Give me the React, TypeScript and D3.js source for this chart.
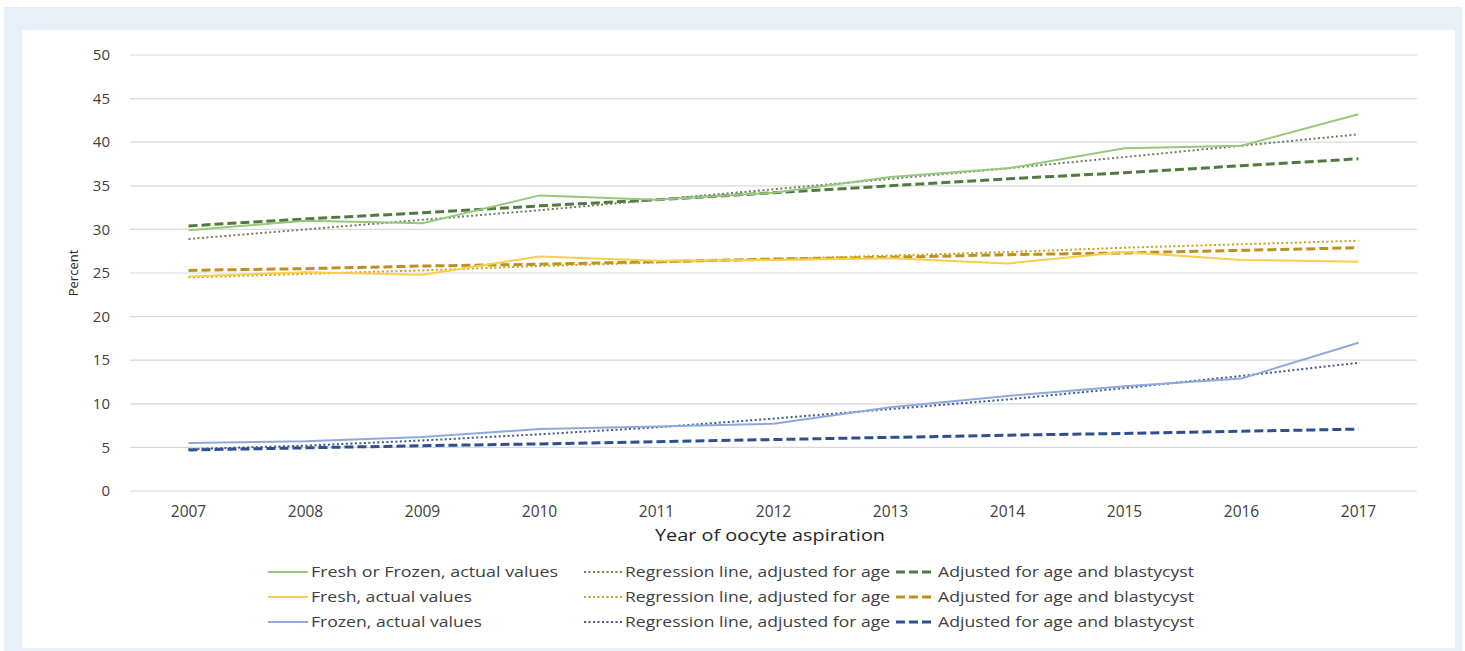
import React from "react";
import * as d3 from "d3";

const years = ["2007","2008","2009","2010","2011","2012","2013","2014","2015","2016","2017"];
const yTicks = [0,5,10,15,20,25,30,35,40,45,50];

const bothActual = [29.9, 31.0, 30.7, 33.9, 33.4, 34.2, 36.0, 37.0, 39.3, 39.6, 43.2];
const bothRegression = [28.9, 30.0, 31.1, 32.2, 33.4, 34.6, 35.8, 37.0, 38.3, 39.6, 40.9];
const bothAdjusted = [30.4, 31.2, 31.9, 32.7, 33.4, 34.2, 35.0, 35.8, 36.5, 37.3, 38.1];

const freshActual = [24.6, 25.1, 24.8, 26.9, 26.4, 26.5, 26.7, 26.1, 27.4, 26.5, 26.3];
const freshRegression = [24.5, 24.9, 25.3, 25.8, 26.2, 26.6, 27.0, 27.4, 27.9, 28.3, 28.7];
const freshAdjusted = [25.3, 25.5, 25.8, 26.0, 26.3, 26.6, 26.8, 27.1, 27.3, 27.6, 27.9];

const frozenActual = [5.5, 5.7, 6.2, 7.1, 7.4, 7.7, 9.6, 10.9, 12.0, 12.9, 17.0];
const frozenRegression = [4.8, 5.2, 5.8, 6.5, 7.3, 8.3, 9.4, 10.5, 11.8, 13.2, 14.7];
const frozenAdjusted = [4.7, 4.95, 5.2, 5.4, 5.65, 5.9, 6.15, 6.4, 6.6, 6.85, 7.1];

const legendActual = ["Fresh or Frozen, actual  values", "Fresh, actual values", "Frozen, actual values"];
const legendActualWidths = [247, 161, 171];
const legendRegression = "Regression line, adjusted for age";
const legendAdjusted = "Adjusted for age and blastycyst";

const colors = {
  greenSolid: "#97c97a",
  greenDot: "#6e7f62",
  greenDash: "#527a40",
  yellowSolid: "#f7cf4a",
  yellowDot: "#c9a21e",
  yellowDash: "#bf9020",
  blueSolid: "#8eaadc",
  blueDot: "#3e5a8c",
  blueDash: "#2f4f8f",
};

const FONT = "'Open Sans', sans-serif";

export default function App() {
  const x = d3.scaleBand<string>().domain(years).range([130, 1417]);
  const cx = (yr: string) => (x(yr) as number) + x.bandwidth() / 2;
  const y = d3.scaleLinear().domain([0, 50]).range([491, 55]);
  const line = d3
    .line<number>()
    .x((_, i) => cx(years[i]))
    .y((d) => y(d));

  const series = [
    { data: bothAdjusted, color: colors.greenDash, dash: "9,4", w: 3 },
    { data: bothRegression, color: colors.greenDot, dash: "2,2.5", w: 2 },
    { data: bothActual, color: colors.greenSolid, dash: null, w: 2 },
    { data: freshAdjusted, color: colors.yellowDash, dash: "9,4", w: 3 },
    { data: freshRegression, color: colors.yellowDot, dash: "2,2.5", w: 2 },
    { data: freshActual, color: colors.yellowSolid, dash: null, w: 2 },
    { data: frozenAdjusted, color: colors.blueDash, dash: "9,4", w: 3 },
    { data: frozenRegression, color: colors.blueDot, dash: "2,2.5", w: 2 },
    { data: frozenActual, color: colors.blueSolid, dash: null, w: 2 },
  ];

  const legendRows = [
    { solid: colors.greenSolid, dot: colors.greenDot, dash: colors.greenDash },
    { solid: colors.yellowSolid, dot: colors.yellowDot, dash: colors.yellowDash },
    { solid: colors.blueSolid, dot: colors.blueDot, dash: colors.blueDash },
  ];
  const rowY = [572, 597, 622];

  return (
    <svg
      width={1465}
      height={651}
      style={{ position: "absolute", left: 0, top: 0, display: "block" }}
      fontFamily={FONT}
    >
      <rect x={0} y={0} width={1465} height={651} fill="#ffffff" />
      <rect x={4} y={7} width={1458} height={644} fill="#e8eff9" />
      <rect x={22} y={30} width={1433} height={618} fill="#ffffff" />

      {yTicks.map((t) => (
        <g key={t}>
          <line x1={130} x2={1417} y1={y(t)} y2={y(t)} stroke="#d9d9d9" strokeWidth={1.2} />
          <text x={110} y={y(t)} dy="0.35em" textAnchor="end" fontSize={15} fill="#404040">
            {t}
          </text>
        </g>
      ))}

      {years.map((yr) => (
        <text key={yr} x={cx(yr)} y={512} dy="0.35em" textAnchor="middle" fontSize={15.5} fill="#404040">
          {yr}
        </text>
      ))}

      <text
        x={655}
        y={535}
        dy="0.35em"
        fontSize={17}
        fill="#262626"
        textLength={230}
        lengthAdjust="spacingAndGlyphs"
      >
        Year of oocyte aspiration
      </text>
      <text
        transform={`translate(73,273) rotate(-90)`}
        textAnchor="middle"
        dy="0.35em"
        fontSize={13}
        fill="#262626"
      >
        Percent
      </text>

      {series.map((s, i) => (
        <path
          key={i}
          d={line(s.data) as string}
          fill="none"
          stroke={s.color}
          strokeWidth={s.w}
          strokeDasharray={s.dash ?? undefined}
        />
      ))}

      {legendRows.map((r, i) => (
        <g key={i}>
          <line x1={268} x2={308} y1={rowY[i]} y2={rowY[i]} stroke={r.solid} strokeWidth={2} />
          <text
            x={311}
            y={rowY[i]}
            dy="0.35em"
            fontSize={15}
            fill="#404040"
            textLength={legendActualWidths[i]}
            lengthAdjust="spacingAndGlyphs"
          >
            {legendActual[i]}
          </text>
          <line x1={584} x2={622} y1={rowY[i]} y2={rowY[i]} stroke={r.dot} strokeWidth={2} strokeDasharray="2,2.5" />
          <text
            x={625}
            y={rowY[i]}
            dy="0.35em"
            fontSize={15}
            fill="#404040"
            textLength={265}
            lengthAdjust="spacingAndGlyphs"
          >
            {legendRegression}
          </text>
          <line x1={896} x2={933} y1={rowY[i]} y2={rowY[i]} stroke={r.dash} strokeWidth={3} strokeDasharray="9,4" />
          <text
            x={938}
            y={rowY[i]}
            dy="0.35em"
            fontSize={15}
            fill="#404040"
            textLength={256}
            lengthAdjust="spacingAndGlyphs"
          >
            {legendAdjusted}
          </text>
        </g>
      ))}
    </svg>
  );
}
